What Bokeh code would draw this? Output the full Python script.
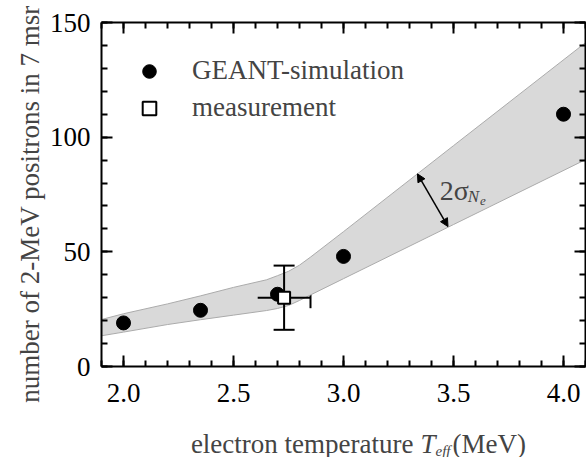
import math
from bokeh.plotting import figure
from bokeh.models import (LinearAxis, FixedTicker, Range1d, Legend, LegendItem, Label, Arrow,
                          NormalHead, Whisker, TeeHead, ColumnDataSource, NumeralTickFormatter)
from bokeh.embed import file_html
from bokeh.resources import INLINE

# ---------------- data ----------------
geant_T = [2.0, 2.35, 2.7, 3.0, 4.0]
geant_N = [19.0, 24.5, 31.5, 48.0, 110.0]

meas_T = [2.73]
meas_N = [30.0]
meas_T_lo = [2.61]
meas_T_hi = [2.85]
meas_N_lo = [16.0]
meas_N_hi = [44.0]

band_T = [1.9, 2.0, 2.2, 2.35, 2.5, 2.65, 2.7, 2.75, 2.8, 2.85, 3.0, 3.5, 4.1]
band_hi = [20.5, 23.0, 27.3, 30.8, 34.5, 37.8, 39.6, 41.5, 44.2, 47.7, 58.8, 96.3, 141.2]
band_lo = [13.4, 15.0, 18.3, 20.4, 22.4, 24.4, 25.3, 26.6, 28.8, 31.2, 38.3, 61.9, 90.2]

# axis extents and tick positions
x_lo, x_hi = 1.9, 4.1
y_lo, y_hi = 0, 150
x_major_ticks = [2.0, 2.5, 3.0, 3.5, 4.0]
x_minor_ticks = [round(1.9 + 0.1 * i, 1) for i in range(23)]
y_major_ticks = [0, 50, 100, 150]
y_minor_ticks = list(range(0, 151, 10))

# annotation anchors (data units)
arrow_start = (3.336, 84.0)
arrow_end = (3.475, 61.0)

FONT = "Liberation Serif"
W, H = 586, 457
PX_X = 220.0                     # pixels per MeV
PX_Y = 344.0 / 150.0             # pixels per count
LEFT_PAD = 101                   # pixels left of T = 1.9
RIGHT_PAD = 1                    # pixels right of T = 4.1
TOP_PAD = 22                     # pixels above N = 150
BOTTOM_PAD = 91                  # pixels below N = 0

# the frame spans the whole canvas so that the titles are not clipped;
# the plotted box is drawn by four axes with fixed locations
p = figure(width=W, height=H,
           x_range=Range1d(x_lo - LEFT_PAD / PX_X, x_hi + RIGHT_PAD / PX_X),
           y_range=Range1d(y_lo - BOTTOM_PAD / PX_Y, y_hi + TOP_PAD / PX_Y),
           x_axis_type=None, y_axis_type=None,
           output_backend="svg", toolbar_location=None,
           min_border_left=0, min_border_right=0, min_border_top=0, min_border_bottom=0)
p.outline_line_color = None
p.background_fill_color = "white"
p.border_fill_color = "white"


def make_axis(side, loc, bounds, ticks, minor, labels, standoff=8, fmt=None,
              tin=(11, 6), tout=(0, 0)):
    ax = LinearAxis(ticker=FixedTicker(ticks=ticks, minor_ticks=minor),
                    fixed_location=loc, bounds=bounds)
    if fmt is not None:
        ax.formatter = fmt
    ax.axis_line_width = 2
    ax.axis_line_color = "black"
    ax.major_tick_in, ax.minor_tick_in = tin
    ax.major_tick_out, ax.minor_tick_out = tout
    ax.major_tick_line_width = 2
    ax.minor_tick_line_width = 2
    ax.major_tick_line_color = "black"
    ax.minor_tick_line_color = "black"
    ax.major_label_text_font = FONT
    ax.major_label_text_font_size = "27px"
    ax.major_label_standoff = standoff
    ax.major_label_text_color = "black" if labels else None
    p.add_layout(ax, side)
    return ax


# bottom and left axes with labels, ticks pointing into the box
make_axis("below", y_lo, (x_lo, x_hi), x_major_ticks, x_minor_ticks, True, 17,
          NumeralTickFormatter(format="0.0"))
make_axis("left", x_lo, (y_lo, y_hi), y_major_ticks, y_minor_ticks, True, 11)
# mirrored top and right edges: ticks point into the box, no labels
make_axis("below", y_hi, (x_lo, x_hi), x_major_ticks, x_minor_ticks, False,
          tin=(0, 0), tout=(11, 6))
make_axis("left", x_hi, (y_lo, y_hi), y_major_ticks, y_minor_ticks, False,
          tin=(0, 0), tout=(11, 6))

# ---------------- band ----------------
p.varea(x=band_T, y1=band_lo, y2=band_hi, fill_color="#d9d9d9")
p.line(band_T, band_hi, line_color="#ababab", line_width=1)
p.line(band_T, band_lo, line_color="#ababab", line_width=1)

# ---------------- error bars ----------------
p.segment(x0=meas_T_lo, y0=meas_N, x1=meas_T_hi, y1=meas_N, line_color="black", line_width=2)
p.segment(x0=meas_T, y0=meas_N_lo, x1=meas_T, y1=meas_N_hi, line_color="black", line_width=2)

src = ColumnDataSource(dict(T=meas_T, N=meas_N, Tlo=meas_T_lo, Thi=meas_T_hi,
                            Nlo=meas_N_lo, Nhi=meas_N_hi))
for dim, base, lo, hi in (("height", "T", "Nlo", "Nhi"), ("width", "N", "Tlo", "Thi")):
    p.add_layout(Whisker(source=src, base=base, lower=lo, upper=hi, dimension=dim,
                         line_alpha=0,
                         upper_head=TeeHead(size=21, line_width=2, line_color="black"),
                         lower_head=TeeHead(size=21, line_width=2, line_color="black")))

# ---------------- points ----------------
r_geant = p.scatter(geant_T, geant_N, marker="circle", size=14,
                    fill_color="black", line_color="black")
r_meas = p.scatter(meas_T, meas_N, marker="square", size=12,
                   fill_color="white", line_color="black", line_width=2)

legend = Legend(items=[LegendItem(label="GEANT-simulation", renderers=[r_geant]),
                       LegendItem(label="measurement", renderers=[r_meas])],
                location=(132, H - 53.5 - 71), border_line_color=None,
                background_fill_alpha=0,
                glyph_width=34, glyph_height=34, label_height=34, label_standoff=26,
                spacing=3, padding=0, margin=0,
                label_text_font=FONT, label_text_font_size="27px")
p.add_layout(legend)

# ---------------- 2 sigma annotation ----------------
p.add_layout(Arrow(x_start=arrow_start[0], y_start=arrow_start[1],
                   x_end=arrow_end[0], y_end=arrow_end[1], line_width=1.5,
                   start=NormalHead(size=8, fill_color="black", line_color="black"),
                   end=NormalHead(size=8, fill_color="black", line_color="black")))
p.add_layout(Label(x=3.4376, y=76.9, text="2σ", text_font=FONT, text_font_size="28px",
                   text_baseline="alphabetic", text_align="left"))
p.add_layout(Label(x=3.5646, y=74.2, text="N", text_font=FONT, text_font_size="17px",
                   text_font_style="italic", text_baseline="alphabetic", text_align="left"))
p.add_layout(Label(x=3.621, y=72.05, text="e", text_font=FONT, text_font_size="13px",
                   text_font_style="italic", text_baseline="alphabetic", text_align="left"))


# ---------------- axis titles ----------------
def px2x(px):
    return x_lo + (px - LEFT_PAD) / PX_X


def py2y(py):
    return (366 - py) / PX_Y


p.add_layout(Label(x=px2x(29.5), y=py2y(203.5),
                   text="number of 2-MeV positrons in 7 msr",
                   angle=math.pi / 2, text_align="center", text_baseline="middle",
                   text_font=FONT, text_font_size="27px"))
p.add_layout(Label(x=px2x(413), y=py2y(443), text="electron temperature", text_align="right",
                   text_baseline="alphabetic", text_font=FONT, text_font_size="27px"))
p.add_layout(Label(x=px2x(420), y=py2y(443), text="T", text_align="left",
                   text_font_style="italic", text_baseline="alphabetic",
                   text_font=FONT, text_font_size="27px"))
p.add_layout(Label(x=px2x(435), y=py2y(450), text="eff", text_align="left",
                   text_font_style="italic", text_baseline="alphabetic",
                   text_font=FONT, text_font_size="15px"))
p.add_layout(Label(x=px2x(452), y=py2y(443), text="(MeV)", text_align="left",
                   text_baseline="alphabetic", text_font=FONT, text_font_size="27px"))

open("out.html", "w").write(file_html(p, INLINE))
